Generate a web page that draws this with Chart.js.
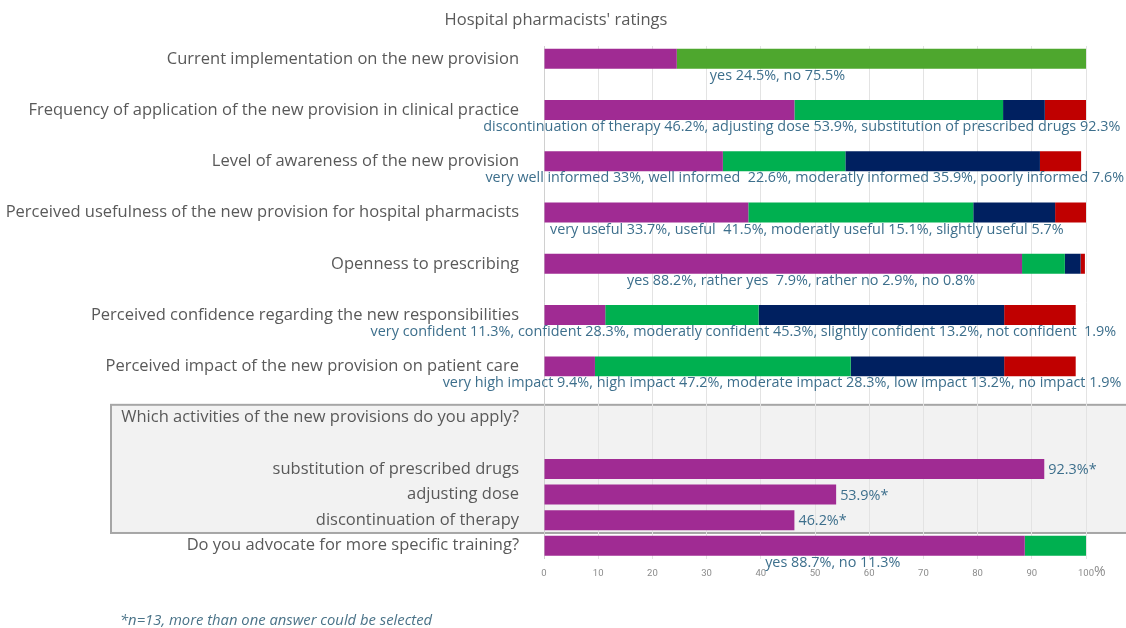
<!DOCTYPE html>
<html>
<head>
<meta charset="utf-8">
<script src="https://cdn.jsdelivr.net/npm/chart.js@4.4.1/dist/chart.umd.min.js"></script>
<style>
  html, body { margin: 0; padding: 0; background: #fff; }
  #wrap { width: 1126px; height: 628px; position: relative; }
</style>
</head>
<body>
<div id="wrap"><canvas id="chart"></canvas></div>
<script>
// one slot per row; empty strings are spacer rows
const categories = [
	'Current implementation on the new provision', '',
	'Frequency of application of the new provision in clinical practice', '',
	'Level of awareness of the new provision', '',
	'Perceived usefulness of the new provision for hospital pharmacists', '',
	'Openness to prescribing', '',
	'Perceived confidence regarding the new responsibilities', '',
	'Perceived impact of the new provision on patient care', '',
	'Which activities of the new provisions do you apply?', '',
	'substitution of prescribed drugs',
	'adjusting dose',
	'discontinuation of therapy',
	'Do you advocate for more specific training?',
];

const seg1 = [24.5, null, 46.2, null, 33, null, 37.7, null, 88.2, null, 11.3, null, 9.4, null, null, null, 92.3, 53.9, 46.2, 88.7];
const seg2 = [75.5, null, 38.5, null, 22.6, null, 41.5, null, 7.9, null, 28.3, null, 47.2, null, null, null, null, null, null, 11.3];
const seg3 = [null, null, 7.7, null, 35.9, null, 15.1, null, 2.9, null, 45.3, null, 28.3, null, null, null, null, null, null, null];
const seg4 = [null, null, 7.6, null, 7.6, null, 5.7, null, 0.8, null, 13.2, null, 13.2, null, null, null, null, null, null, null];

const notes = [
	'yes 24.5%, no 75.5%', '',
	'discontinuation of therapy 46.2%, adjusting dose 53.9%, substitution of prescribed drugs 92.3%', '',
	'very well informed 33%, well informed  22.6%, moderatly informed 35.9%, poorly informed 7.6%', '',
	'very useful 33.7%, useful  41.5%, moderatly useful 15.1%, slightly useful 5.7%', '',
	'yes 88.2%, rather yes  7.9%, rather no 2.9%, no 0.8%', '',
	'very confident 11.3%, confident 28.3%, moderatly confident 45.3%, slightly confident 13.2%, not confident  1.9%', '',
	'very high impact 9.4%, high impact 47.2%, moderate impact 28.3%, low impact 13.2%, no impact 1.9%', '',
	'', '', '', '', '',
	'yes 88.7%, no 11.3%',
];
const activityLabels = [null, null, null, null, null, null, null, null, null, null, null, null, null, null, null, null, '92.3%*', '53.9%*', '46.2%*', null];

const xTicks = [0, 10, 20, 30, 40, 50, 60, 70, 80, 90, 100];

// where each note starts, in axis units
const noteStart = [30.6, 0, -11.2, 0, -10.8, 0, 1.1, 0, 15.3, 0, -32, 0, -18.7, 0, 0, 0, 0, 0, 0, 40.8];

const NOTE_COLOR = '#3d6f8c';
const LABEL_COLOR = '#595959';
const FONT = "'Open Sans'";

const decorPlugin = {
	id: 'decor',
	beforeDraw(chart) {
		const ctx = chart.ctx;
		const y = chart.scales.y;
		const half = (y.getPixelForValue(1) - y.getPixelForValue(0)) / 2;
		const top = y.getPixelForValue(14) - half;
		const bottom = y.getPixelForValue(18) + half;
		ctx.save();
		ctx.fillStyle = '#f2f2f2';
		ctx.fillRect(111, top, chart.width - 111, bottom - top);
		ctx.strokeStyle = '#a6a6a6';
		ctx.lineWidth = 2;
		ctx.strokeRect(111, top, chart.width - 111 + 5, bottom - top);
		ctx.restore();
	},
	afterDatasetsDraw(chart) {
		const ctx = chart.ctx;
		const x = chart.scales.x;
		const y = chart.scales.y;
		ctx.save();
		ctx.fillStyle = NOTE_COLOR;
		ctx.textBaseline = 'middle';
		ctx.textAlign = 'left';
		notes.forEach((t, i) => {
			if (!t) return;
			const x0 = x.getPixelForValue(noteStart[i]);
			// squeeze the longest notes so they stay inside the canvas
			ctx.font = '14.4px ' + FONT;
			const w = ctx.measureText(t).width;
			const room = chart.width - 2 - x0;
			if (w > room) {
				ctx.font = (14.4 * room / w).toFixed(2) + 'px ' + FONT;
			}
			ctx.fillText(t, x0, y.getPixelForValue(i) + 17);
		});
		ctx.font = '14.4px ' + FONT;
		activityLabels.forEach((t, i) => {
			if (!t) return;
			ctx.fillText(t, x.getPixelForValue(seg1[i]) + 4, y.getPixelForValue(i) + 1);
		});
		// title, unit and footnote
		ctx.fillStyle = LABEL_COLOR;
		ctx.font = '16.5px ' + FONT;
		ctx.textAlign = 'center';
		ctx.fillText("Hospital pharmacists' ratings", 556, 20);
		ctx.fillStyle = '#8c8c8c';
		ctx.font = '14px ' + FONT;
		ctx.textAlign = 'left';
		ctx.fillText('%', x.getPixelForValue(100) + 8, 572);
		ctx.fillStyle = '#4a7388';
		ctx.font = 'italic 14.8px ' + FONT;
		ctx.fillText('*n=13, more than one answer could be selected', 120, 621);
		ctx.restore();
	},
};

const config = {
	type: 'bar',
	data: {
		labels: categories,
		datasets: [
			{ data: seg1, backgroundColor: '#a02b93' },
			{
				data: seg2,
				backgroundColor: (c) => (c.dataIndex === 0 ? '#4ea72e' : '#00b050'),
			},
			{ data: seg3, backgroundColor: '#002060' },
			{ data: seg4, backgroundColor: '#c00000' },
		],
	},
	options: {
		indexAxis: 'y',
		responsive: true,
		maintainAspectRatio: false,
		animation: false,
		layout: { padding: { top: 46, right: 40, bottom: 40, left: 0 } },
		plugins: {
			legend: { display: false },
			tooltip: { enabled: false },
		},
		datasets: {
			bar: { categoryPercentage: 1, barPercentage: 0.78 },
		},
		scales: {
			x: {
				stacked: true,
				min: 0,
				max: 100,
				afterBuildTicks: (s) => {
					s.ticks = xTicks.map((v) => ({ value: v }));
				},
				grid: { color: '#e3e3e3', drawTicks: false },
				border: { display: false },
				ticks: {
					color: '#8c8c8c',
					font: { family: 'Roboto', size: 9.5 },
					padding: 9,
				},
			},
			y: {
				stacked: true,
				grid: { display: false },
				border: { display: true, color: '#d0d0d0' },
				afterFit: (s) => {
					s.width = 544;
				},
				ticks: {
					autoSkip: false,
					color: LABEL_COLOR,
					font: { family: 'Open Sans', size: 16.5 },
					padding: 17,
				},
			},
		},
	},
	plugins: [decorPlugin],
};

function renderChart() {
	const chartCanvas = document.getElementById('chart');
	new Chart(chartCanvas, config);
}

renderChart();
</script>
</body>
</html>
